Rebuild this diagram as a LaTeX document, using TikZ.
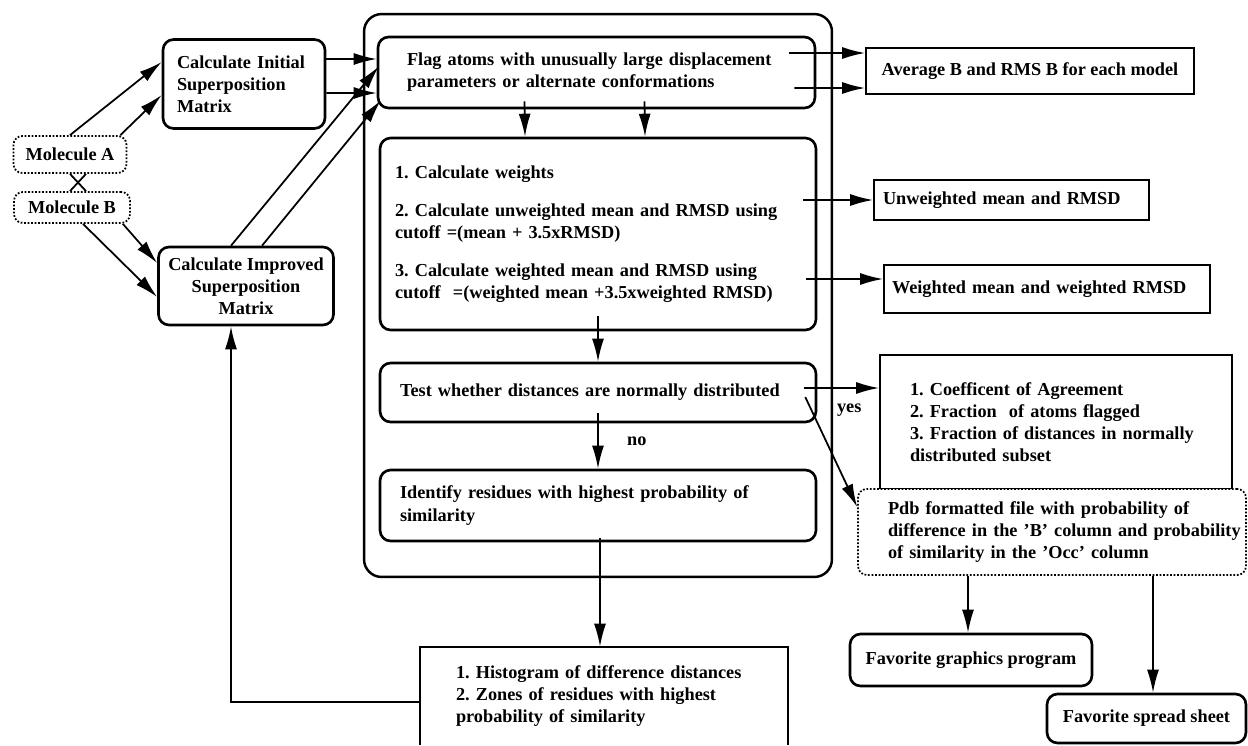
\documentclass[tikz,border=0pt]{standalone}
\usepackage{fontspec}
\setmainfont{Liberation Serif}
\usetikzlibrary{calc,arrows.meta}
\frenchspacing

\begin{document}
\begin{tikzpicture}[
    x=0.02cm, y=-0.02cm,
    every node/.style={font=\fontsize{10.4}{12.6}\selectfont\bfseries},
    rbox/.style={rectangle, rounded corners=6pt, draw=black, line width=1.5pt, align=left},
    sbox/.style={rectangle, draw=black, line width=1pt, align=left},
    dbox/.style={rectangle, rounded corners=5pt, draw=black, densely dotted, line width=1pt, align=left, fill=white},
    frame/.style={rectangle, rounded corners=10pt, draw=black, line width=1.4pt, minimum width=9.36cm, minimum height=11.26cm},
    arr/.style={-{Latex[length=4.6mm,width=2.4mm]}, line width=1pt},
    ln/.style={-, line width=1pt},
    ]
    \useasboundingbox (0,0) rectangle (1248,745);

    %% outer frame
    \node[frame] (outer) at (598,295.5) {};

    %% inputs
    \node[dbox, align=center, minimum width=2.26cm, minimum height=0.74cm, inner sep=1pt] (molA) at (70,154.5) {Molecule A};
    \node[dbox, align=center, minimum width=2.32cm, minimum height=0.62cm, inner sep=1pt] (molB) at (72,207.5) {Molecule B};

    %% superposition
    \node[rbox, text width=2.68cm, inner xsep=0.28cm, minimum height=1.78cm] (init) at (244,84)
        {Calculate Initial\\Superposition\\Matrix};
    \node[rbox, align=center, minimum width=3.5cm, minimum height=1.56cm, inner xsep=2pt] (impr) at (246,286)
        {Calculate Improved\\Superposition\\Matrix};

    %% steps in the frame
    \node[rbox, text width=7.58cm, inner xsep=0.58cm, minimum height=1.42cm] (flag) at (596.5,72.5)
        {Flag atoms with unusually large displacement\\parameters or alternate conformations};
    \node[rbox, text width=8.12cm, inner xsep=0.3cm, minimum height=3.84cm] (weights) at (598,234)
        {1. Calculate weights\\[9pt]
         2. Calculate unweighted mean and RMSD using\\cutoff =(mean + 3.5xRMSD)\\[9pt]
         3. Calculate weighted mean and RMSD using\\cutoff~ =(weighted mean +3.5xweighted RMSD)};
    \node[rbox, text width=7.92cm, inner xsep=0.4cm, minimum height=1.18cm] (test) at (598,392.5)
        {Test whether distances are normally distributed};
    \node[rbox, text width=7.92cm, inner xsep=0.4cm, minimum height=1.42cm] (ident) at (598,505.5)
        {Identify residues with highest probability of\\similarity};

    %% outputs
    \node[sbox, align=center, minimum width=6.56cm, minimum height=0.92cm] (avg) at (1030,71)
        {Average B and RMS B for each model};
    \node[sbox, text width=5.14cm, inner xsep=0.18cm, minimum height=0.8cm] (unw) at (1011.5,200)
        {Unweighted mean and RMSD};
    \node[sbox, text width=6.2cm, inner xsep=0.16cm, minimum height=0.96cm] (wgt) at (1047,289)
        {Weighted mean and weighted RMSD};
    \node[sbox, text width=5.84cm, inner xsep=0.6cm, minimum height=2.68cm] (coef) at (1056,422)
        {\mbox{1. Coefficent of Agreement}\\
         \mbox{2. Fraction~ of atoms flagged}\\
         \mbox{3. Fraction of distances in normally}\\
         \mbox{distributed subset}};
    \node[dbox, text width=6.56cm, inner xsep=0.6cm, minimum height=1.72cm] (pdb) at (1052,532)
        {\mbox{Pdb formatted file with probability of}\\
         \mbox{difference in the 'B' column and probability}\\
         \mbox{of similarity in the 'Occ' column}};
    \node[rbox, align=center, minimum width=4.84cm, minimum height=1.04cm] (graph) at (971,660)
        {Favorite graphics program};
    \node[rbox, align=center, minimum width=3.98cm, minimum height=0.98cm] (sheet) at (1146.5,718.5)
        {Favorite spread sheet};
    \node[rectangle, align=left, text width=5.92cm, inner xsep=0.72cm, minimum height=1.96cm] (hist) at (604,696)
        {1. Histogram of difference distances\\2. Zones of residues with highest\\probability of similarity};
    \draw[ln] (hist.south west) |- (hist.north east) -- (hist.south east);

    % molecules to superposition
    \draw[arr] (molA.north) -- ($(init.west)+(0,-22)$);
    \draw[arr] ($(molA.north east)+(-7,0)$) -- ($(init.west)+(0,11)$);
    \draw[arr] ($(molB.south)+(11,0)$) -- ($(impr.west)+(0,11)$);
    \draw[arr] ($(molB.south east)+(-8,0)$) -- ($(impr.west)+(0,-23)$);
    \draw[ln] (molA.south) -- ($(molB.north)+(14,0)$);
    \draw[ln] ($(molA.south)+(16,0)$) -- ($(molB.north)+(-2,0)$);

    % superposition to flag
    \draw[arr] ($(init.east)+(0,-25)$) -- ($(flag.west)+(0,-13.5)$);
    \draw[arr] ($(init.east)+(0,9)$) -- ($(flag.west)+(0,20.5)$);
    \draw[arr] ($(impr.north)+(-15,0)$) -- ($(flag.west)+(2,-6)$);
    \draw[arr] ($(impr.north)+(16,0)$) -- ($(flag.west)+(4,28)$);

    % flag arrows
    \draw[arr] ($(flag.east)+(-27,-19.5)$) -- ($(avg.west)+(0,-18)$);
    \draw[arr] ($(flag.east)+(-22,15.5)$) -- ($(avg.west)+(0,17)$);
    \draw[arr] ($(flag.south)+(-72,-8)$) -- ($(weights.north)+(-73,0)$);
    \draw[arr] ($(flag.south)+(48,-8)$) -- ($(weights.north)+(47,0)$);

    % weights arrows
    \draw[arr] ($(weights.east)+(-14,-34)$) -- (unw.west);
    \draw[arr] ($(weights.east)+(-11,45)$) -- ($(wgt.west)+(0,-10)$);
    \draw[arr] ($(weights.south)+(0,-15)$) -- (test.north);

    % test arrows
    \draw[arr] ($(test.south)+(0,-10)$) -- node[right=0.45cm] {no} (ident.north);
    \draw[arr] ($(test.east)+(-13,-4.5)$) -- node[pos=0.6, below=5pt] {yes} ($(coef.west)+(0,-34)$);
    \draw[arr] ($(test.east)+(-12,4.5)$) -- ($(pdb.west)+(0,-25)$);

    % results
    \draw[arr] ($(ident.south)+(2,-4)$) -- ($(hist.north)+(-4,0)$);
    \draw[arr] ($(hist.west)+(0,6)$) -| ($(impr.south)+(-15,0)$);
    \draw[arr] ($(pdb.south)+(-84,0)$) -- ($(graph.north)+(-3,0)$);
    \draw[arr] ($(pdb.south)+(101,0)$) -- ($(sheet.north)+(6.5,0)$);

\end{tikzpicture}
\end{document}
